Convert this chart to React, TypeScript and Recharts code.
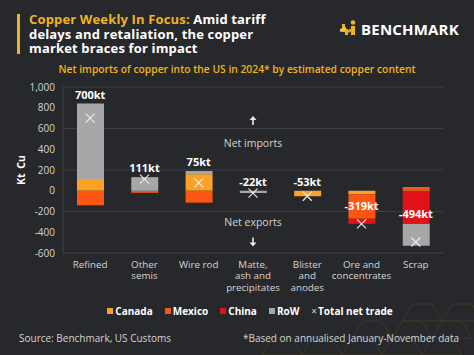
import React from "react";
import {
  ComposedChart,
  Bar,
  Line,
  XAxis,
  YAxis,
  CartesianGrid,
  ReferenceDot,
  LabelList,
} from "recharts";

const categories = [
  "Refined",
  "Other semis",
  "Wire rod",
  "Matte, ash and precipitates",
  "Blister and anodes",
  "Ore and concentrates",
  "Scrap",
];
const tickLines: Record<string, string[]> = {
  Refined: ["Refined"],
  "Other semis": ["Other", "semis"],
  "Wire rod": ["Wire rod"],
  "Matte, ash and precipitates": ["Matte,", "ash and", "precipitates"],
  "Blister and anodes": ["Blister", "and", "anodes"],
  "Ore and concentrates": ["Ore and", "concentrates"],
  Scrap: ["Scrap"],
};
const canada = [113, 0, 160, 0, -53, -35, 8];
const mexico = [-140, -20, -115, 0, 0, -235, 28];
const china = [0, 0, 0, 0, 0, -49, -320];
const row = [727, 131, 30, -22, 0, 0, -210];
const totals = [700, 111, 75, -22, -53, -319, -494];
const totalLabels = ["700kt", "111kt", "75kt", "-22kt", "-53kt", "-319kt", "-494kt"];
const yTicks = [-600, -400, -200, 0, 200, 400, 600, 800, 1000];

const COLORS = {
  canada: "#f9a225",
  mexico: "#fd5513",
  china: "#e2121b",
  row: "#a7a7a9",
  gold: "#f0b323",
  bg: "#27282b",
  grid: "#3d3e42",
  text: "#d4d4d4",
};

const FONT = "'Open Sans', 'Noto Sans', sans-serif";

// label sits above the positive stack, or inside the bar when the export is big
const data = categories.map((name, i) => {
  const parts = [canada[i], mexico[i], china[i], row[i]];
  const posTop = parts.filter((v) => v > 0).reduce((a, b) => a + b, 0);
  const inside = totals[i] < -200;
  return {
    name,
    canada: canada[i],
    mexico: mexico[i],
    china: china[i],
    row: row[i],
    total: totals[i],
    label: totalLabels[i],
    inside,
    labelAt: inside ? totals[i] * 0.46 : posTop,
  };
});

const XTick = ({ x, y, payload }: any) => {
  const lines = tickLines[payload.value] || [payload.value];
  return (
    <text x={x} y={y + 7} textAnchor="middle" fill={COLORS.text} fontSize={9.8} fontFamily={FONT}>
      {lines.map((l, i) => (
        <tspan key={i} x={x} dy={i === 0 ? 0 : 11.3}>
          {l}
        </tspan>
      ))}
    </text>
  );
};

const Cross = ({ cx, cy }: any) => {
  if (cx == null || cy == null) return null;
  const s = 4.5;
  return (
    <g stroke="#ececec" strokeWidth={1.1}>
      <line x1={cx - s} y1={cy - s} x2={cx + s} y2={cy + s} />
      <line x1={cx - s} y1={cy + s} x2={cx + s} y2={cy - s} />
    </g>
  );
};

const TotalLabel = (props: any) => {
  const { x, y, index } = props;
  const d = data[index];
  return (
    <text
      x={x}
      y={d.inside ? y + 4 : y - 5}
      textAnchor="middle"
      fill="#ffffff"
      fontSize={11}
      fontWeight={700}
      fontFamily={FONT}
    >
      {d.label}
    </text>
  );
};

const Arrow = ({ cx, cy, dir }: any) => {
  const d = dir === "up" ? -1 : 1;
  return (
    <g fill="#e6e6e6" stroke="#e6e6e6">
      <line x1={cx} y1={cy - 4.5 * d} x2={cx} y2={cy + 1 * d} strokeWidth={1.6} />
      <polygon
        points={`${cx - 3.5},${cy + 0.5 * d} ${cx + 3.5},${cy + 0.5 * d} ${cx},${cy + 4.5 * d}`}
        strokeWidth={0}
      />
    </g>
  );
};

const AnnoText = ({ cx, cy, text }: any) => (
  <text x={cx} y={cy + 4} textAnchor="middle" fill={COLORS.text} fontSize={10.5} fontFamily={FONT}>
    {text}
  </text>
);

const legendItems = [
  { name: "Canada", color: COLORS.canada },
  { name: "Mexico", color: COLORS.mexico },
  { name: "China", color: COLORS.china },
  { name: "RoW", color: COLORS.row },
];

export default function App() {
  return (
    <div
      style={{
        position: "absolute",
        left: 0,
        top: 0,
        width: 474,
        height: 355,
        background: COLORS.bg,
        fontFamily: FONT,
        overflow: "hidden",
      }}
    >
      {/* faint hex pattern in the corner */}
      <svg width={474} height={355} style={{ position: "absolute", left: 0, top: 0 }}>
        <g stroke="#5a4c22" strokeWidth={0.7} fill="none" opacity={0.6}>
          <polygon points="262,355 272,338 292,338 302,355" />
          <polygon points="302,355 312,338 332,338 342,355" />
          <polygon points="342,355 352,338 372,338 382,355" />
          <polygon points="382,355 392,338 412,338 422,355" />
          <polygon points="352,338 362,321 382,321 392,338" />
          <polygon points="392,338 402,321 422,321 432,338" />
          <polygon points="422,355 432,338 452,338 462,355" />
          <polygon points="432,338 442,321 462,321 472,338" />
          <polygon points="402,321 412,304 432,304 442,321" />
          <polygon points="442,321 452,304 472,304 482,321" />
        </g>
      </svg>

      {/* title block */}
      <div style={{ position: "absolute", left: 17, top: 14, width: 3, height: 40, background: COLORS.gold }} />
      <div
        style={{
          position: "absolute",
          left: 29,
          top: 12,
          width: 252,
          fontSize: 13,
          lineHeight: "14.5px",
          fontWeight: 700,
          letterSpacing: 0.15,
          color: "#ffffff",
        }}
      >
        <span style={{ color: COLORS.gold }}>Copper Weekly In Focus:</span> Amid tariff delays and
        retaliation, the copper market braces for impact
      </div>

      {/* logo */}
      <svg width={20} height={16} style={{ position: "absolute", left: 340, top: 20 }}>
        <circle cx={13} cy={2.5} r={2.3} fill={COLORS.gold} />
        <polygon points="2,4 5,4 5,9 8,9 8,15 5,15 5,12 2,12" fill={COLORS.gold} />
        <polygon points="0,9 6,7 6,10 0,12" fill="#f7c94a" />
        <polygon points="11,6 15,6 15,15 11,15" fill={COLORS.gold} />
        <polygon points="6,11 12,8 12,11 6,14" fill="#e8a317" />
      </svg>
      <div
        style={{
          position: "absolute",
          left: 361,
          top: 19,
          fontSize: 15,
          fontWeight: 700,
          color: "#ffffff",
          letterSpacing: 0.2,
        }}
      >
        BENCHMARK
      </div>

      {/* subtitle */}
      <div
        style={{
          position: "absolute",
          left: 0,
          width: 474,
          top: 62,
          textAlign: "center",
          fontSize: 10.3,
          fontWeight: 600,
          color: COLORS.gold,
        }}
      >
        Net imports of copper into the US in 2024* by estimated copper content
      </div>

      {/* y label */}
      <div
        style={{
          position: "absolute",
          left: 21,
          top: 170,
          transform: "translate(-50%, -50%) rotate(-90deg)",
          fontSize: 10.5,
          fontWeight: 700,
          color: "#ffffff",
          whiteSpace: "nowrap",
          wordSpacing: 2,
        }}
      >
        Kt Cu
      </div>

      <div style={{ position: "absolute", left: 0, top: 0 }}>
        <ComposedChart
          width={474}
          height={300}
          data={data}
          stackOffset="sign"
          barCategoryGap="50%"
          margin={{ top: 87, right: 31, bottom: 2, left: 0 }}
        >
          <CartesianGrid vertical={false} stroke={COLORS.grid} />
          <XAxis
            dataKey="name"
            interval={0}
            height={45}
            tick={<XTick />}
            tickLine={false}
            axisLine={false}
          />
          <YAxis
            width={63}
            domain={[-600, 1000]}
            ticks={yTicks}
            tickLine={false}
            axisLine={{ stroke: COLORS.grid }}
            tick={{ fill: COLORS.text, fontSize: 10, fontFamily: FONT }}
            tickFormatter={(v) => v.toLocaleString("en-US")}
          />
          <Bar dataKey="canada" stackId="a" fill={COLORS.canada} barSize={27} isAnimationActive={false} />
          <Bar dataKey="mexico" stackId="a" fill={COLORS.mexico} barSize={27} isAnimationActive={false} />
          <Bar dataKey="china" stackId="a" fill={COLORS.china} barSize={27} isAnimationActive={false} />
          <Bar dataKey="row" stackId="a" fill={COLORS.row} barSize={27} isAnimationActive={false} />
          <Line
            dataKey="total"
            stroke="none"
            dot={<Cross />}
            activeDot={false}
            isAnimationActive={false}
          />
          <Line
            dataKey="labelAt"
            stroke="none"
            dot={false}
            activeDot={false}
            isAnimationActive={false}
          >
            <LabelList dataKey="label" content={<TotalLabel />} />
          </Line>

          <ReferenceDot
            x="Matte, ash and precipitates"
            y={677}
            r={0}
            shape={(p: any) => <Arrow {...p} dir="up" />}
          />
          <ReferenceDot
            x="Matte, ash and precipitates"
            y={465}
            r={0}
            shape={(p: any) => <AnnoText {...p} text="Net imports" />}
          />
          <ReferenceDot
            x="Matte, ash and precipitates"
            y={-306}
            r={0}
            shape={(p: any) => <AnnoText {...p} text="Net exports" />}
          />
          <ReferenceDot
            x="Matte, ash and precipitates"
            y={-493}
            r={0}
            shape={(p: any) => <Arrow {...p} dir="down" />}
          />
        </ComposedChart>
      </div>

      {/* legend */}
      <div
        style={{
          position: "absolute",
          left: 26,
          width: 448,
          top: 304,
          display: "flex",
          justifyContent: "center",
          alignItems: "center",
          gap: 12,
          fontSize: 10,
          fontWeight: 700,
          color: "#ffffff",
        }}
      >
        {legendItems.map((it) => (
          <div key={it.name} style={{ display: "flex", alignItems: "center", gap: 2 }}>
            <span style={{ width: 6, height: 6, background: it.color, display: "inline-block" }} />
            <span>{it.name}</span>
          </div>
        ))}
        <div style={{ display: "flex", alignItems: "center", gap: 1 }}>
          <span style={{ fontWeight: 400, color: COLORS.text }}>×</span>
          <span>Total net trade</span>
        </div>
      </div>

      {/* footer */}
      <div style={{ position: "absolute", left: 19, top: 331, fontSize: 10, color: COLORS.text }}>
        Source: Benchmark, US Customs
      </div>
      <div
        style={{ position: "absolute", right: 15, top: 331, fontSize: 10, color: COLORS.text }}
      >
        *Based on annualised January-November data
      </div>
    </div>
  );
}
